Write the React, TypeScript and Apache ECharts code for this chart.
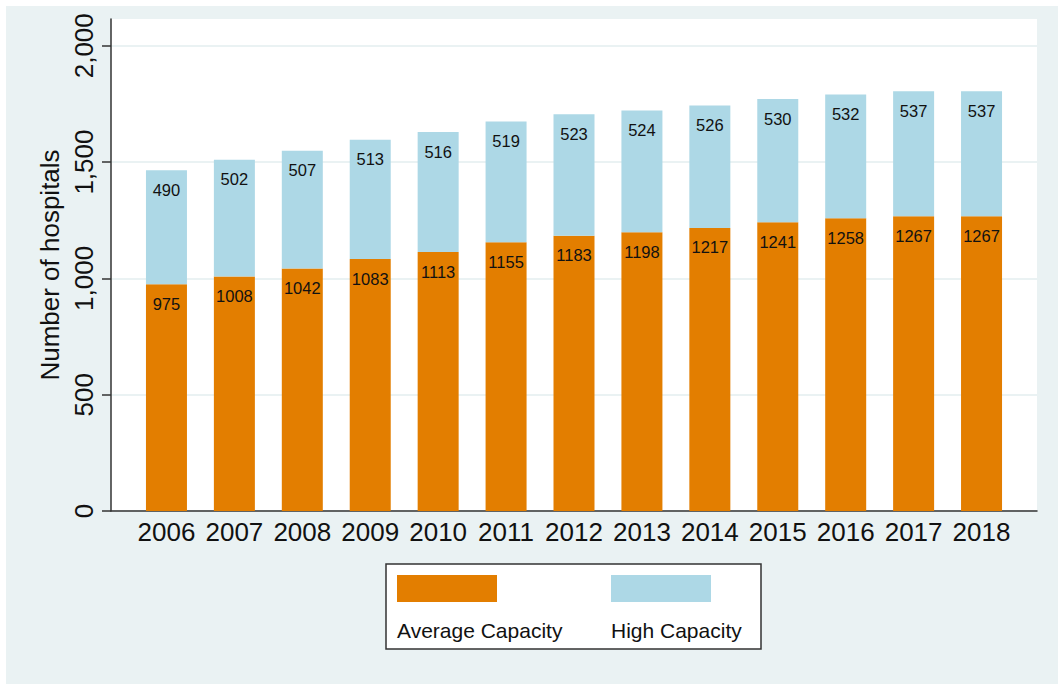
import React, { useEffect, useRef } from "react";
import * as echarts from "echarts";

const years = ["2006", "2007", "2008", "2009", "2010", "2011", "2012", "2013", "2014", "2015", "2016", "2017", "2018"];
const averageCapacity = [975, 1008, 1042, 1083, 1113, 1155, 1183, 1198, 1217, 1241, 1258, 1267, 1267];
const highCapacity = [490, 502, 507, 513, 516, 519, 523, 524, 526, 530, 532, 537, 537];
const yTicks = [0, 500, 1000, 1500, 2000];
const seriesNames = ["Average Capacity", "High Capacity"];
const yTitle = "Number of hospitals";

const FONT = "'Liberation Sans', Arial, Helvetica, sans-serif";
const BG = "#EAF2F3";
const ORANGE = "#E37E00";
const LIGHTBLUE = "#ADD8E6";
const AXIS = "#333333";
const Y_MAX = 2115;

export default function App() {
  const ref = useRef<HTMLDivElement>(null);
  useEffect(() => {
    if (!ref.current) return;
    const chart = echarts.init(ref.current, undefined, { renderer: "svg" });
    const fmt = (v: number) => v.toLocaleString("en-US");
    const option: any = {
      animation: false,
      backgroundColor: "#ffffff",
      textStyle: { fontFamily: FONT },
      graphic: [
        { type: "rect", z: -10, shape: { x: 6, y: 6, width: 1052, height: 678 }, style: { fill: BG } },
        {
          type: "group",
          z: 100,
          children: [
            { type: "rect", shape: { x: 386, y: 564, width: 375, height: 85 }, style: { fill: "#ffffff", stroke: AXIS, lineWidth: 1.5 } },
            { type: "rect", shape: { x: 397, y: 575, width: 100, height: 27 }, style: { fill: ORANGE } },
            { type: "rect", shape: { x: 611, y: 575, width: 100, height: 27 }, style: { fill: LIGHTBLUE } },
            { type: "text", x: 397, y: 630, style: { text: seriesNames[0], font: `21px ${FONT}`, fill: "#111", textVerticalAlign: "middle" } },
            { type: "text", x: 611, y: 630, style: { text: seriesNames[1], font: `21px ${FONT}`, fill: "#111", textVerticalAlign: "middle" } },
          ],
        },
      ],
      grid: [
        { left: 111, right: 21, top: 19, bottom: 173, show: true, backgroundColor: "#ffffff", borderWidth: 0 },
        { left: 132.5, right: 42.5, top: 19, bottom: 173 },
      ],
      xAxis: [
        {
          type: "value",
          gridIndex: 0,
          min: 0,
          max: 1,
          axisLine: { show: true, onZero: false, lineStyle: { color: AXIS, width: 1.5 } },
          axisTick: { show: false },
          axisLabel: { show: false },
          splitLine: { show: false },
        },
        {
          type: "category",
          gridIndex: 1,
          data: years,
          axisLine: { show: false },
          axisTick: { show: false },
          axisLabel: { interval: 0, hideOverlap: false, margin: 8, fontSize: 26, color: "#111", fontFamily: FONT },
        },
      ],
      yAxis: [
        {
          type: "value",
          gridIndex: 0,
          min: 0,
          max: Y_MAX,
          interval: 500,
          name: yTitle,
          nameLocation: "middle",
          nameGap: 41,
          nameTextStyle: { fontSize: 26, color: "#111", fontFamily: FONT },
          axisLine: { show: true, lineStyle: { color: AXIS, width: 1.5 } },
          axisTick: { show: true, length: 9, customValues: yTicks, lineStyle: { color: AXIS, width: 1.5 } },
          axisLabel: {
            customValues: yTicks,
            rotate: 90,
            margin: 14,
            fontSize: 26,
            color: "#111",
            fontFamily: FONT,
            formatter: (v: number) => (yTicks.includes(v) ? fmt(v) : ""),
          },
          splitLine: { show: true, lineStyle: { color: BG, width: 2 } },
        },
        {
          type: "value",
          gridIndex: 1,
          min: 0,
          max: Y_MAX,
          show: false,
          splitLine: { show: false },
        },
      ],
      series: [
        {
          name: seriesNames[0],
          type: "bar",
          xAxisIndex: 1,
          yAxisIndex: 1,
          stack: "total",
          barWidth: 41,
          data: averageCapacity,
          itemStyle: { color: ORANGE },
          label: { show: true, position: "insideTop", distance: 11, fontSize: 16.5, color: "#111", fontFamily: FONT },
        },
        {
          name: seriesNames[1],
          type: "bar",
          xAxisIndex: 1,
          yAxisIndex: 1,
          stack: "total",
          barWidth: 41,
          data: highCapacity,
          itemStyle: { color: LIGHTBLUE },
          label: { show: true, position: "insideTop", distance: 11, fontSize: 16.5, color: "#111", fontFamily: FONT },
        },
      ],
    };
    chart.setOption(option);
    return () => chart.dispose();
  }, []);
  return <div ref={ref} style={{ position: "absolute", left: 0, top: 0, width: 1058, height: 684 }} />;
}
